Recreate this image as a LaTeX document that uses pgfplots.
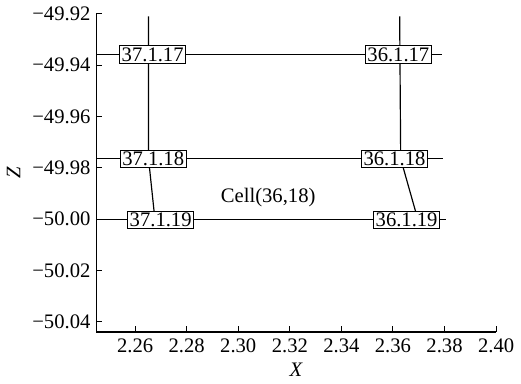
\documentclass[border=0pt]{standalone}
\usepackage{pgfplots}
\pgfplotsset{compat=1.18}
\usepackage{fontspec}
\setmainfont{Liberation Serif}
\begin{document}
\fontsize{21bp}{25bp}\selectfont
\begin{tikzpicture}
\begin{axis}[
  scale only axis,
  width=407bp, height=324bp,
  xmin=2.245, xmax=2.40,
  ymin=-50.044, ymax=-49.92,
  axis lines=left,
  axis line style={-, line width=1.2bp},
  tick align=inside,
  major tick length=6bp,
  tick style={line width=1bp, black},
  xtick={2.26,2.28,2.30,2.32,2.34,2.36,2.38,2.40},
  xticklabels={2.26,2.28,2.30,2.32,2.34,2.36,2.38,2.40},
  ytick={-50.04,-50.02,-50.00,-49.98,-49.96,-49.94,-49.92},
  yticklabels={−50.04,−50.02,−50.00,−49.98,−49.96,−49.94,−49.92},
  ticklabel style={font=\fontsize{21bp}{25bp}\selectfont},
  yticklabel style={xshift=1bp},
  /pgf/number format/assume math mode=true,
  xlabel={\textit{X}},
  ylabel={\textit{Z}},
  label style={font=\fontsize{21bp}{25bp}\selectfont},
  xlabel style={yshift=4bp},
  ylabel style={yshift=-2bp},
  clip=false,
  set layers,
]
% rows
\addplot[black, line width=1.2bp, mark=none] coordinates {(2.245,-49.9358) (2.379,-49.9358)};
\addplot[black, line width=1.2bp, mark=none] coordinates {(2.245,-49.9765) (2.3795,-49.9765)};
\addplot[black, line width=1.2bp, mark=none] coordinates {(2.245,-50.0003) (2.3806,-50.0003)};
% columns
\addplot[black, line width=1.2bp, mark=none] coordinates {(2.2652,-49.921) (2.2652,-49.9765) (2.2677,-50.0003)};
\addplot[black, line width=1.2bp, mark=none] coordinates {(2.3626,-49.921) (2.3630,-49.9765) (2.3697,-50.0003)};
% labels
\tikzset{lab/.style={draw=black, line width=0.9bp, fill=white, inner xsep=2bp, inner ysep=1.5bp, text height=14.5bp, text depth=0.5bp, font=\fontsize{21bp}{25bp}\selectfont}}
\begin{pgfonlayer}{axis foreground}
\node[lab] at (axis cs:2.2668,-49.9358) {37.1.17};
\node[lab] at (axis cs:2.3621,-49.9358) {36.1.17};
\node[lab] at (axis cs:2.2670,-49.9765) {37.1.18};
\node[lab] at (axis cs:2.3606,-49.9765) {36.1.18};
\node[lab] at (axis cs:2.2699,-50.0003) {37.1.19};
\node[lab] at (axis cs:2.3653,-50.0003) {36.1.19};
\node[font=\fontsize{21bp}{25bp}\selectfont] at (axis cs:2.3116,-49.9915) {Cell(36,18)};
\end{pgfonlayer}
\end{axis}
\end{tikzpicture}
\end{document}
